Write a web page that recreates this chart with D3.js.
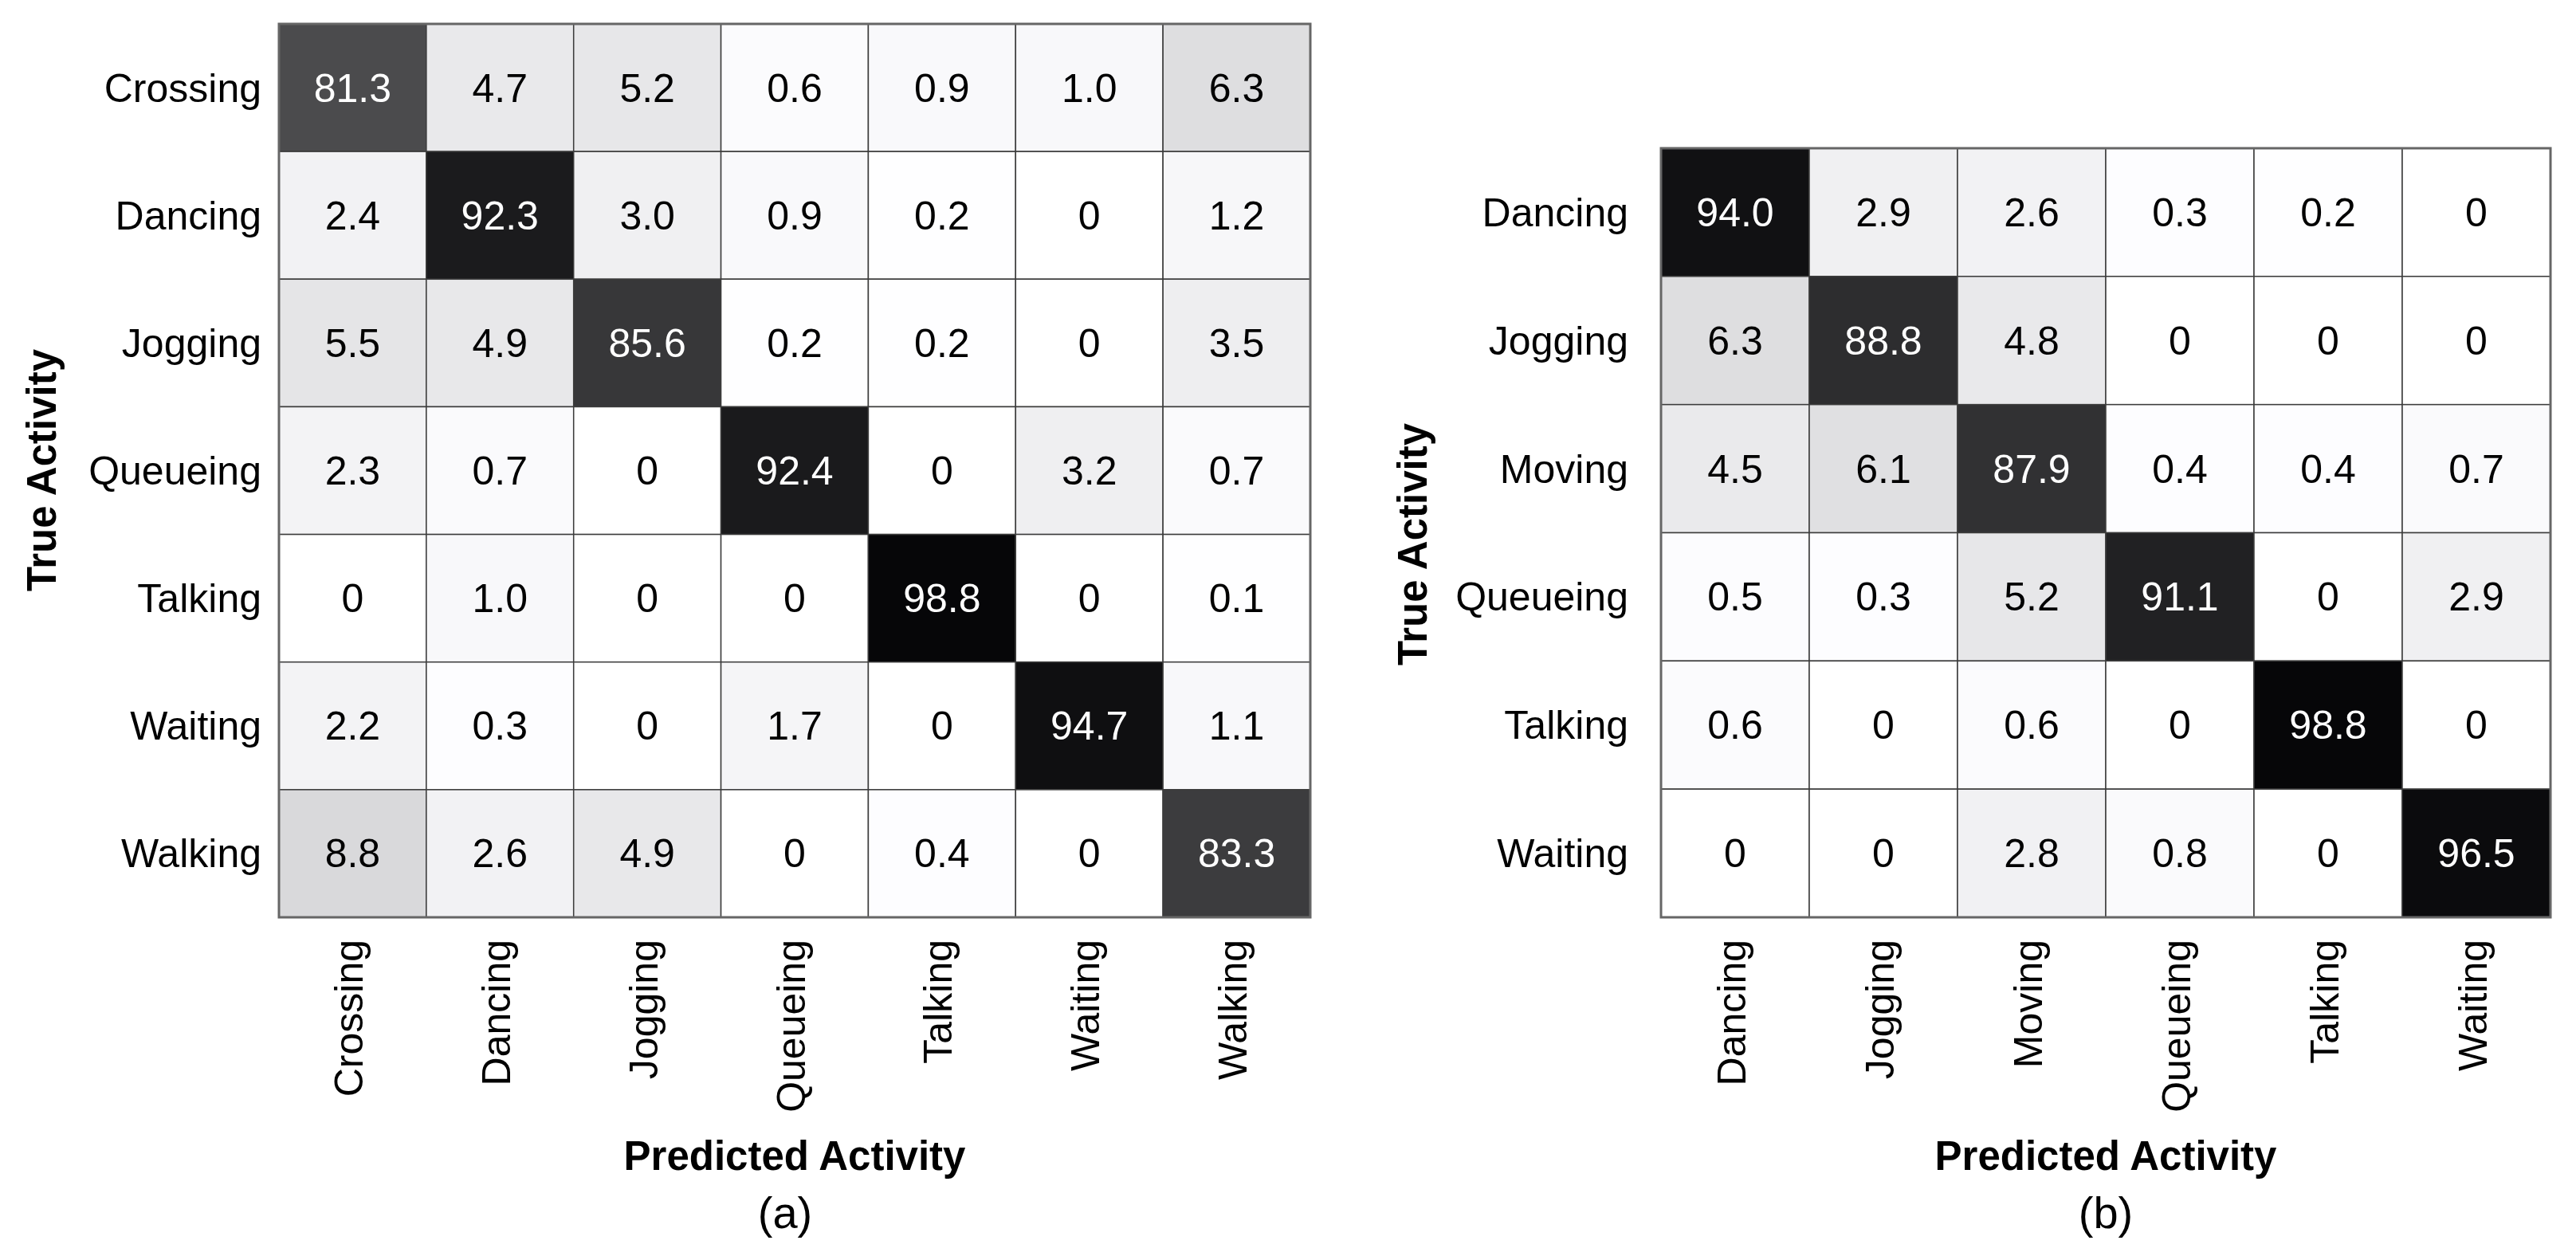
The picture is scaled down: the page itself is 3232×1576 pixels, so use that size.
<!DOCTYPE html>
<html>
<head>
<meta charset="utf-8">
<script src="https://cdn.jsdelivr.net/npm/d3@7"></script>
<style>
  body { margin: 0; background: #fff; }
  svg { display: block; }
  text { font-family: "Liberation Sans", Arial, sans-serif; }
</style>
</head>
<body>
<svg id="svgChart" width="3232" height="1576"></svg>
<script>
// Panel (a): seven activity classes
const classesA = ["Crossing", "Dancing", "Jogging", "Queueing", "Talking", "Waiting", "Walking"];
const valuesA = [
  [81.3, 4.7, 5.2, 0.6, 0.9, 1.0, 6.3],
  [2.4, 92.3, 3.0, 0.9, 0.2, 0, 1.2],
  [5.5, 4.9, 85.6, 0.2, 0.2, 0, 3.5],
  [2.3, 0.7, 0, 92.4, 0, 3.2, 0.7],
  [0, 1.0, 0, 0, 98.8, 0, 0.1],
  [2.2, 0.3, 0, 1.7, 0, 94.7, 1.1],
  [8.8, 2.6, 4.9, 0, 0.4, 0, 83.3]
];

// Panel (b): six activity classes
const classesB = ["Dancing", "Jogging", "Moving", "Queueing", "Talking", "Waiting"];
const valuesB = [
  [94.0, 2.9, 2.6, 0.3, 0.2, 0],
  [6.3, 88.8, 4.8, 0, 0, 0],
  [4.5, 6.1, 87.9, 0.4, 0.4, 0.7],
  [0.5, 0.3, 5.2, 91.1, 0, 2.9],
  [0.6, 0, 0.6, 0, 98.8, 0],
  [0, 0, 2.8, 0.8, 0, 96.5]
];

const xTitle = "Predicted Activity";
const yTitle = "True Activity";


/*** Function definitions ***/

// Grey level of a cell (white for 0, near black for 100)
let greyScale = d3.scaleLinear()
  .domain([0, 0.5, 1, 2.5, 3.5, 4.5, 5.5, 6.3, 8.8, 81.3, 83.3, 88, 92.3, 94, 96.5, 100])
  .range([255, 252, 248, 242, 238, 234, 229, 222, 217, 75, 60, 49, 27, 17, 11, 3])
  .clamp(true);

function cellColour(v) {
  let g = Math.round(greyScale(v));
  return d3.rgb(g, g, Math.min(255, g + 2)).formatHex();
};

function fmt(v) {
  return v === 0 ? "0" : v.toFixed(1);
};

// Draw one confusion matrix panel
function drawMatrix(svg, opt) {
  let x = d3.scaleBand().domain(opt.classes).range([opt.left, opt.right]);
  let y = d3.scaleBand().domain(opt.classes).range([opt.top, opt.bottom]);

  let cells = [];
  opt.values.forEach((row, i) => row.forEach((v, j) => {
    cells.push({ t: opt.classes[i], p: opt.classes[j], v: v });
  }));

  let g = svg.append("g");

  // Cells
  g.append("g")
    .selectAll("rect")
    .data(cells)
    .join("rect")
      .attr("x", d => x(d.p))
      .attr("y", d => y(d.t))
      .attr("width", x.bandwidth())
      .attr("height", y.bandwidth())
      .attr("fill", d => cellColour(d.v))
      .attr("stroke", "#3c3c3c")
      .attr("stroke-width", 1.5);

  // Outer frame
  g.append("rect")
    .attr("x", opt.left)
    .attr("y", opt.top)
    .attr("width", opt.right - opt.left)
    .attr("height", opt.bottom - opt.top)
    .attr("fill", "none")
    .attr("stroke", "#666")
    .attr("stroke-width", 3);

  // Cell values
  g.append("g")
    .selectAll("text")
    .data(cells)
    .join("text")
      .attr("x", d => x(d.p) + x.bandwidth() / 2)
      .attr("y", d => y(d.t) + y.bandwidth() / 2)
      .attr("dy", "0.35em")
      .attr("text-anchor", "middle")
      .attr("font-size", 50)
      .attr("fill", d => d.v > 50 ? "#fff" : "#000")
      .text(d => fmt(d.v));

  // Row labels (true class)
  g.append("g")
    .attr("transform", `translate(${opt.left}, 0)`)
    .call(d3.axisLeft(y).tickSize(0).tickPadding(opt.rowPad))
    .call(a => a.select(".domain").remove())
    .call(a => a.selectAll("text")
      .attr("font-size", 50)
      .attr("font-family", "Liberation Sans, Arial, sans-serif")
      .attr("fill", "#000")
      .attr("dy", "0.35em"));

  // Column labels (predicted class), rotated
  g.append("g")
    .attr("transform", `translate(0, ${opt.bottom})`)
    .call(d3.axisBottom(x).tickSize(0))
    .call(a => a.select(".domain").remove())
    .call(a => a.selectAll("text")
      .attr("font-size", 50)
      .attr("font-family", "Liberation Sans, Arial, sans-serif")
      .attr("fill", "#000")
      .attr("text-anchor", "end")
      .attr("transform", "rotate(-90)")
      .attr("x", -28)
      .attr("y", -5)
      .attr("dy", "0.35em"));

  let cx = (opt.left + opt.right) / 2;

  // Axis titles
  g.append("text")
    .attr("x", cx)
    .attr("y", 1468)
    .attr("text-anchor", "middle")
    .attr("font-size", 51)
    .attr("font-weight", "bold")
    .text(xTitle);

  g.append("text")
    .attr("transform", `translate(${opt.yTitleX}, ${opt.yTitleY}) rotate(-90)`)
    .attr("text-anchor", "middle")
    .attr("font-size", 51)
    .attr("font-weight", "bold")
    .text(yTitle);

  // Panel caption
  g.append("text")
    .attr("x", cx + opt.capShift)
    .attr("y", 1541)
    .attr("text-anchor", "middle")
    .attr("font-size", 56)
    .text(opt.caption);
};


/*** Operations ***/

let svg = d3.select("#svgChart");

drawMatrix(svg, {
  classes: classesA, values: valuesA,
  left: 350, right: 1644, top: 30, bottom: 1151,
  rowPad: 22, yTitleX: 70, yTitleY: 590, capShift: -12, caption: "(a)"
});

drawMatrix(svg, {
  classes: classesB, values: valuesB,
  left: 2084, right: 3200, top: 186, bottom: 1151,
  rowPad: 41, yTitleX: 1790, yTitleY: 683, capShift: 0, caption: "(b)"
});
</script>
</body>
</html>
